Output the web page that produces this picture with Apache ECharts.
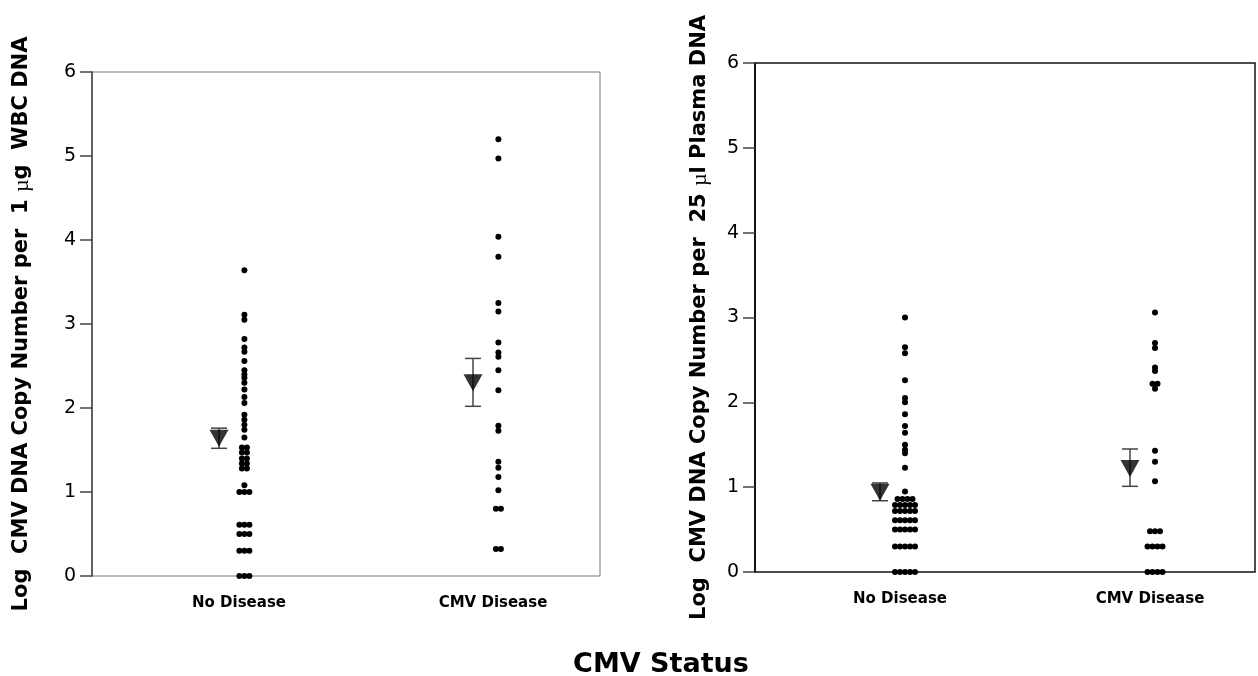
<!DOCTYPE html>
<html><head><meta charset="utf-8">
<script src="https://cdn.jsdelivr.net/npm/echarts@6/dist/echarts.min.js"></script>
<style>html,body{margin:0;padding:0;background:#fff}#c{width:1258px;height:676px}</style>
</head><body><div id="c"></div><script>
// ---- data ----
const categories = ['No Disease', 'CMV Disease'];
const yTicks = [0, 1, 2, 3, 4, 5, 6];
// Left panel: Log CMV DNA copy number per 1 µg WBC DNA
const wbcNoDisease = [3.64, 3.11, 3.05, 2.82, 2.72, 2.67, 2.56, 2.45, 2.40, 2.36, 2.30, 2.22, 2.13, 2.06,
  1.92, 1.86, 1.80, 1.74, 1.65, 1.53, 1.53, 1.47, 1.47, 1.40, 1.40, 1.34, 1.34, 1.28, 1.28, 1.08,
  1.0, 1.0, 1.0, 0.61, 0.61, 0.61, 0.50, 0.50, 0.50, 0.30, 0.30, 0.30, 0, 0, 0];
const wbcCMVDisease = [5.20, 4.97, 4.04, 3.80, 3.25, 3.15, 2.78, 2.66, 2.61, 2.45, 2.21, 1.79, 1.73,
  1.36, 1.29, 1.18, 1.02, 0.80, 0.80, 0.32, 0.32];
const wbcMean = [1.64, 2.30];
const wbcErrLow = [1.52, 2.02];
const wbcErrHigh = [1.76, 2.59];
// Right panel: Log CMV DNA copy number per 25 µl plasma DNA
const plasmaNoDisease = [3.0, 2.65, 2.58, 2.26, 2.05, 2.0, 1.86, 1.72, 1.64, 1.50, 1.44, 1.40, 1.23, 0.95,
  0.86, 0.86, 0.86, 0.86, 0.79, 0.79, 0.79, 0.79, 0.79, 0.72, 0.72, 0.72, 0.72, 0.72,
  0.61, 0.61, 0.61, 0.61, 0.61, 0.50, 0.50, 0.50, 0.50, 0.50, 0.30, 0.30, 0.30, 0.30, 0.30,
  0, 0, 0, 0, 0];
const plasmaCMVDisease = [3.06, 2.70, 2.64, 2.41, 2.37, 2.22, 2.22, 2.16, 1.43, 1.30, 1.07,
  0.48, 0.48, 0.48, 0.30, 0.30, 0.30, 0.30, 0, 0, 0, 0];
const plasmaMean = [0.94, 1.22];
const plasmaErrLow = [0.84, 1.01];
const plasmaErrHigh = [1.05, 1.45];
const xTitle = 'CMV Status';
const yTitleLeft = 'Log  CMV DNA Copy Number per  1 {mu|µ}g  WBC DNA';
const yTitleRight = 'Log  CMV DNA Copy Number per  25 {mu|µ}l Plasma DNA';

// ---- layout / style ----
const CAT_X = [1, 3];       // category positions on the x scale (0..4)
const DOT_OFFSET = 0.2;     // dots column sits right of the mean marker
const DOT_GAP = 5;          // px between side-by-side equal values
const FONT = 'DejaVu Sans, sans-serif';

function withRows(vals) {
  const counts = {}, seen = {};
  vals.forEach(v => counts[v] = (counts[v] || 0) + 1);
  return vals.map(v => { const i = seen[v] || 0; seen[v] = i + 1; return [v, i, counts[v]]; });
}
function dotSeries(idx, catIdx, vals) {
  return {
    type: 'custom', xAxisIndex: idx, yAxisIndex: idx, clip: false,
    data: withRows(vals).map(r => [CAT_X[catIdx] + DOT_OFFSET, r[0], r[1], r[2]]),
    renderItem(params, api) {
      const p = api.coord([api.value(0), api.value(1)]);
      const off = (api.value(2) - (api.value(3) - 1) / 2) * DOT_GAP;
      return { type: 'circle', shape: { cx: p[0] + off, cy: p[1], r: 3 }, style: { fill: '#000' } };
    }
  };
}
function errSeries(idx, lows, highs) {
  return {
    type: 'custom', xAxisIndex: idx, yAxisIndex: idx, clip: false,
    data: lows.map((l, i) => [CAT_X[i], l, highs[i]]),
    renderItem(params, api) {
      const a = api.coord([api.value(0), api.value(1)]);
      const b = api.coord([api.value(0), api.value(2)]);
      const st = { stroke: '#444', lineWidth: 1.5 };
      return { type: 'group', children: [
        { type: 'line', shape: { x1: a[0], y1: a[1], x2: b[0], y2: b[1] }, style: st },
        { type: 'line', shape: { x1: a[0] - 8, y1: a[1], x2: a[0] + 8, y2: a[1] }, style: st },
        { type: 'line', shape: { x1: b[0] - 8, y1: b[1], x2: b[0] + 8, y2: b[1] }, style: st }
      ]};
    }
  };
}
function meanSeries(idx, means) {
  return {
    type: 'scatter', xAxisIndex: idx, yAxisIndex: idx, symbol: 'triangle', symbolRotate: 180,
    symbolSize: [19, 17], itemStyle: { color: '#000' }, z: 5,
    data: means.map((m, i) => [CAT_X[i], m])
  };
}
function xAxis(idx) {
  return {
    type: 'value', gridIndex: idx, min: 0, max: 4, interval: 1,
    axisLine: { show: false }, axisTick: { show: false }, splitLine: { show: false },
    axisLabel: {
      margin: 20, color: '#000',
      formatter: v => { const i = CAT_X.indexOf(v); return i >= 0 ? '{l|' + categories[i] + '}' : ''; },
      rich: { l: { fontSize: 15, fontWeight: 'bold', color: '#000', fontFamily: FONT, padding: [0, 0, 0, 40] } }
    }
  };
}
function yAxis(idx, title, gap, lineColor) {
  return {
    type: 'value', gridIndex: idx, min: yTicks[0], max: yTicks[yTicks.length - 1], interval: 1,
    axisLine: { show: true, lineStyle: { color: lineColor, width: 1.5 } },
    axisTick: { show: true, length: 12, lineStyle: { color: '#444', width: 1.5 } },
    splitLine: { show: false },
    axisLabel: { margin: 16, fontSize: 19, color: '#000', fontFamily: FONT },
    name: title, nameLocation: 'middle', nameGap: gap,
    nameTextStyle: { fontSize: 21, fontWeight: 'bold', color: '#000', fontFamily: FONT,
      rich: { mu: { fontFamily: 'Liberation Serif, serif', fontWeight: 'normal', fontSize: 22, color: '#000' } } }
  };
}

const chart = echarts.init(document.getElementById('c'), null, { renderer: 'canvas' });
chart.setOption({
  animation: false,
  backgroundColor: '#fff',
  title: { text: xTitle, left: 656, top: 646, textAlign: 'center',
    textStyle: { fontSize: 27, fontWeight: 'bold', color: '#000', fontFamily: FONT } },
  grid: [
    { left: 92, right: 658, top: 72, bottom: 100, show: true, borderColor: '#777', borderWidth: 1, backgroundColor: 'transparent' },
    { left: 755, right: 1, top: 63, bottom: 104, show: true, borderColor: '#111', borderWidth: 1.5, backgroundColor: 'transparent' }
  ],
  xAxis: [xAxis(0), xAxis(1)],
  yAxis: [yAxis(0, yTitleLeft, 59, '#444'), yAxis(1, yTitleRight, 44, '#000')],
  series: [
    errSeries(0, wbcErrLow, wbcErrHigh), meanSeries(0, wbcMean),
    dotSeries(0, 0, wbcNoDisease), dotSeries(0, 1, wbcCMVDisease),
    errSeries(1, plasmaErrLow, plasmaErrHigh), meanSeries(1, plasmaMean),
    dotSeries(1, 0, plasmaNoDisease), dotSeries(1, 1, plasmaCMVDisease)
  ]
});
</script></body></html>
